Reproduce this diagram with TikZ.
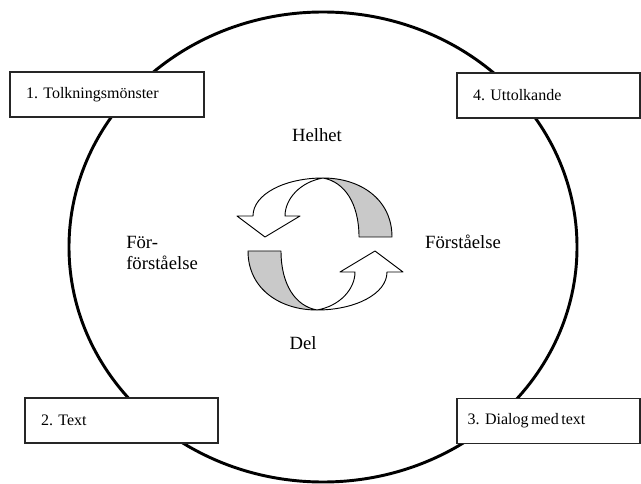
\documentclass[tikz,border=0pt]{standalone}
\usepackage{fontspec}
\setmainfont{Liberation Serif}
\usepackage{xcolor}
\frenchspacing

\begin{document}
\begin{tikzpicture}[x=0.75pt, y=-0.75pt,
  stage/.style={draw=black!85, line width=1pt, fill=white, minimum height=33.75pt,
    text width=#1, align=left, inner xsep=12pt, font=\fontsize{12}{14}\selectfont},
  idea/.style={font=\fontsize{14}{16}\selectfont, inner sep=0pt},
  band/.style={draw, line width=0.7pt, line join=round}]
  \useasboundingbox (0,0) rectangle (641,484);

  % the hermeneutic circle
  \draw[line width=2.2pt] (323,247) ellipse [x radius=190.5pt, y radius=176.25pt];

  \node[stage=121.5pt]  (pattern) at (107,94.5)   {1. Tolkningsmönster};
  \node[stage=113.25pt] (interp)  at (548.5,95.5) {4. Uttolkande};
  \node[stage=120.75pt] (text)    at (121.5,420.5) {2. Text};
  \node[stage=121.25pt, inner xsep=8pt] (dialog) at (548.5,421) {3. Dialog\,med\,text};

  \node[idea] (whole) at (317,135) {Helhet};
  \node[idea] (part)  at (303,343) {Del};
  \node[idea, anchor=west, align=left] (preund) at (126,253) {För-\\förståelse};
  \node[idea] (und) at (463,242) {Förståelse};

  % turning arrows
  \foreach \ang in {0,180}{
    \begin{scope}[shift={(320,244)}, rotate=\ang]
      \filldraw[band, fill=gray!42] (3,-66) .. controls (40,-66) and (72,-45) .. (72,-7)
        -- (39,-7) .. controls (39,-40) and (25,-62) .. (3,-66) -- cycle;
      \filldraw[band, fill=white] (3,-66) .. controls (-35,-66) and (-67,-50) .. (-67,-28)
        -- (-83,-28) -- (-55,-7) -- (-20,-28) -- (-35,-28)
        .. controls (-35,-45) and (-20,-62) .. (3,-66) -- cycle;
    \end{scope}
  }
\end{tikzpicture}
\end{document}
